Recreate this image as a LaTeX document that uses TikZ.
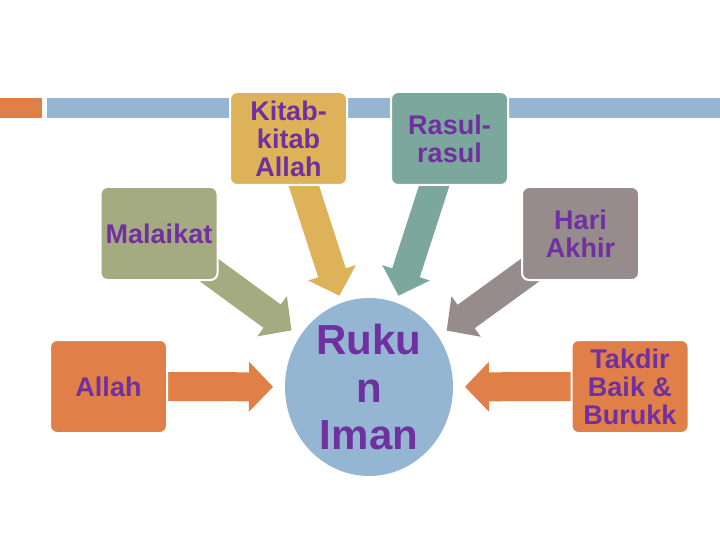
\documentclass[tikz,border=0pt]{standalone}
\usepackage{fontspec}
\setmainfont{Liberation Sans}
\usetikzlibrary{calc,shapes.geometric}
\definecolor{cOrange}{HTML}{E07F47}
\definecolor{cBlue}{HTML}{94B6D3}
\definecolor{cKitab}{HTML}{DDB259}
\definecolor{cRasul}{HTML}{7BA79D}
\definecolor{cMalaikat}{HTML}{A5AB81}
\definecolor{cHari}{HTML}{968C8C}
\definecolor{cText}{HTML}{7030A0}
\pgfdeclarelayer{bg}
\pgfsetlayers{bg,main}
\tikzset{
  pillar/.style={rectangle, rounded corners=7pt, draw=white, line width=2pt,
    minimum width=117pt, minimum height=93pt, inner sep=0pt, align=center,
    text=cText, font=\bfseries\fontsize{27}{28}\selectfont},
  core/.style={ellipse, fill=cBlue, minimum width=168pt, minimum height=170pt,
    inner sep=0pt, align=center, text=cText, font=\bfseries\fontsize{42}{47.5}\selectfont}
}
\newcommand\blkarrow[2]{%
  \coordinate (tip-#1) at ($(ruku.center)!96pt!(#1.center)$);
  \coordinate (head-#1) at ($(tip-#1)!24pt!(#1.center)$);
  \fill[#2] let \p1=(#1.center), \p2=(tip-#1), \n1={atan2(\y2-\y1,\x2-\x1)} in
    ($(#1.center)+(\n1+90:14.5pt)$) -- ($(head-#1)+(\n1+90:14.5pt)$)
    -- ($(head-#1)+(\n1+90:25pt)$) -- (tip-#1) -- ($(head-#1)+(\n1-90:25pt)$)
    -- ($(head-#1)+(\n1-90:14.5pt)$) -- ($(#1.center)+(\n1-90:14.5pt)$) -- cycle;}
\begin{document}
\begin{tikzpicture}[x=1pt,y=-1pt]
\useasboundingbox (0,0) rectangle (720,540);
\node[pillar, fill=cKitab] (kitab) at (288.5,138.5) {Kitab-\\kitab\\Allah};
\node[pillar, fill=cRasul] (rasul) at (449.5,138.5) {Rasul-\\rasul};
\node[pillar, fill=cMalaikat] (malaikat) at (159,233.5) {Malaikat};
\node[pillar, fill=cHari] (hari) at (580.5,233.5) {Hari\\Akhir};
\node[pillar, fill=cOrange] (allah) at (108.5,386.5) {Allah};
\node[pillar, fill=cOrange] (takdir) at (630,386.5) {Takdir\\Baik \&\\Burukk};
\node[core] (ruku) at (369,387) {Ruku\\n\\Iman};
\begin{pgfonlayer}{bg}
  \fill[white] (0,0) rectangle (720,540);
  \fill[cOrange] (0,98) rectangle (42,118);
  \fill[cBlue] (47,98) rectangle (720,118);
  \blkarrow{kitab}{cKitab}
  \blkarrow{rasul}{cRasul}
  \blkarrow{malaikat}{cMalaikat}
  \blkarrow{hari}{cHari}
  \blkarrow{allah}{cOrange}
  \blkarrow{takdir}{cOrange}
\end{pgfonlayer}
\end{tikzpicture}
\end{document}
